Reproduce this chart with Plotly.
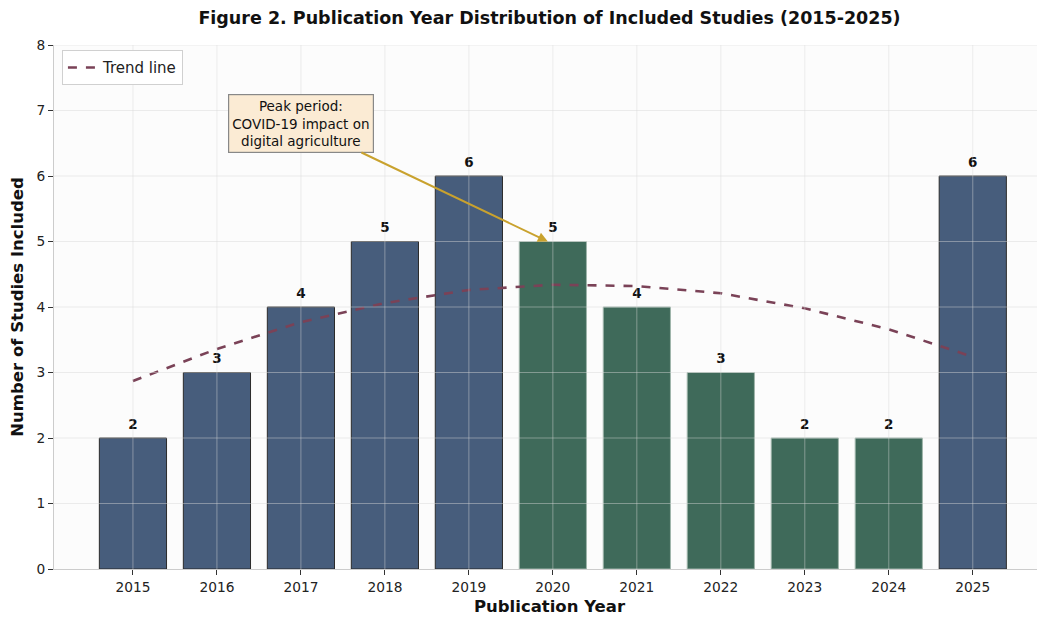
import plotly.graph_objects as go

years = [2015, 2016, 2017, 2018, 2019, 2020, 2021, 2022, 2023, 2024, 2025]
counts = [2, 3, 4, 5, 6, 5, 4, 3, 2, 2, 6]
period = ["pre", "pre", "pre", "pre", "pre", "covid", "covid", "covid", "covid", "covid", "pre"]
trend = [2.87, 3.36, 3.77, 4.06, 4.26, 4.34, 4.32, 4.21, 3.98, 3.66, 3.24]
y_ticks = [0, 1, 2, 3, 4, 5, 6, 7, 8]

BLUE = "#475d7c"
GREEN = "#3f6a5a"
fill_colors = [BLUE if p == "pre" else GREEN for p in period]
edge_colors = ["#2b2b2b" if p == "pre" else "#9fb5aa" for p in period]

fig = go.Figure()
fig.add_trace(go.Bar(
    x=years, y=counts, width=0.8,
    marker=dict(color=fill_colors, line=dict(color=edge_colors, width=1)),
    showlegend=False, hoverinfo="skip",
))
fig.add_trace(go.Scatter(
    x=years, y=counts, mode="markers+text", text=[str(c) for c in counts],
    textposition="top center",
    marker=dict(size=8, opacity=0),
    textfont=dict(family="DejaVu Sans", size=13.5, color="#111111", weight="bold"),
    showlegend=False, hoverinfo="skip",
))
fig.add_trace(go.Scatter(
    x=years, y=trend, mode="lines", name="Trend line",
    line=dict(color="#7a4257", width=2.6, dash="dash"),
))

# gridlines drawn above the bars (as in the reference)
grid_col = "rgba(215,215,215,0.45)"
for yr in years:
    fig.add_shape(type="line", xref="x", yref="paper", x0=yr, x1=yr, y0=0, y1=1,
                  line=dict(color=grid_col, width=1), layer="above")
for t in y_ticks[1:]:
    fig.add_shape(type="line", xref="paper", yref="y", x0=0, x1=1, y0=t, y1=t,
                  line=dict(color=grid_col, width=1), layer="above")

fig.add_annotation(
    x=2019.94, y=5.0, xref="x", yref="y",
    ax=2017.0, ay=6.8, axref="x", ayref="y",
    text="Peak period:<br>COVID-19 impact on<br>digital agriculture",
    showarrow=True, arrowhead=2, arrowsize=1, arrowwidth=2, arrowcolor="#c9a22e",
    font=dict(family="DejaVu Sans", size=13.5, color="#111111"),
    bgcolor="#fbebd4", bordercolor="#888888", borderwidth=1.2, borderpad=3,
    align="center",
)

fig.update_layout(
    width=1037, height=611,
    margin=dict(l=46, r=0, t=37, b=50, autoexpand=False),
    paper_bgcolor="white", plot_bgcolor="#fcfcfc",
    font=dict(family="DejaVu Sans", size=13.5, color="#222222"),
    title=dict(
        text="Figure 2. Publication Year Distribution of Included Studies (2015-2025)",
        x=0.5, xref="paper", xanchor="center", y=1.0, yanchor="top",
        pad=dict(t=4),
        font=dict(family="DejaVu Sans", size=17.5, color="#111111", weight="bold"),
    ),
    legend=dict(
        x=0.008, y=0.99, xanchor="left", yanchor="top",
        bgcolor="white", bordercolor="#d0d0d0", borderwidth=1,
        font=dict(family="DejaVu Sans", size=15, color="#222222"),
    ),
    xaxis=dict(
        range=[2014.06, 2025.86], tickmode="array", tickvals=years,
        ticktext=[str(y) for y in years],
        showgrid=False, zeroline=False,
        showline=True, linecolor="#cccccc", linewidth=1.2,
        ticks="outside", ticklen=5, tickcolor="#333333",
        tickfont=dict(size=13.75, color="#222222"),
        title=dict(text="Publication Year", standoff=6,
                   font=dict(size=16.5, color="#111111", weight="bold")),
    ),
    yaxis=dict(
        range=[0, 8], tickmode="array", tickvals=y_ticks,
        showgrid=False, zeroline=False,
        showline=True, linecolor="#cccccc", linewidth=1.2,
        ticks="outside", ticklen=5, tickcolor="#333333",
        tickfont=dict(size=13.75, color="#222222"),
        title=dict(text="Number of Studies Included", standoff=10,
                   font=dict(size=16.5, color="#111111", weight="bold")),
    ),
)

fig.write_html("out.html")
